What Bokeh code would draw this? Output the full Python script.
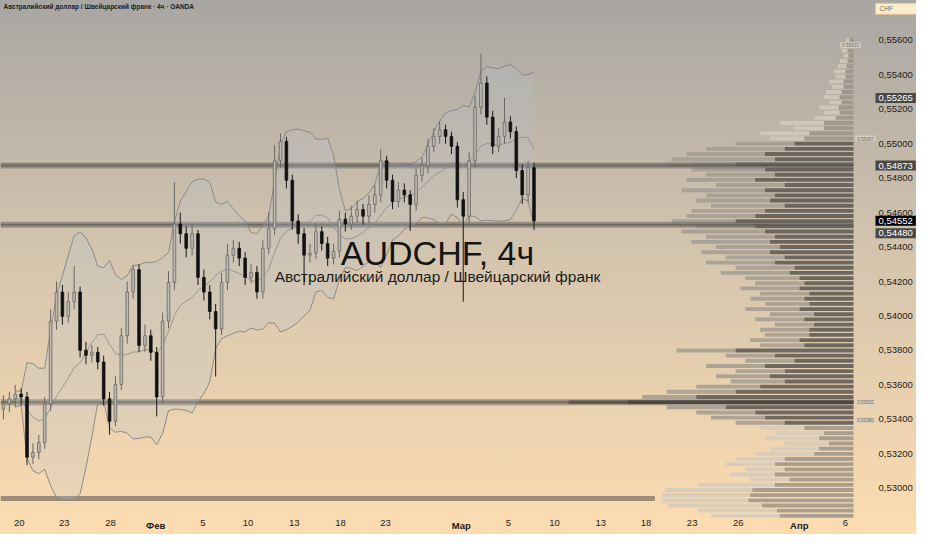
import pandas as pd
from bokeh.plotting import figure
from bokeh.models import Range1d, FixedTicker, CustomJSTickFormatter, Label
from bokeh.embed import file_html
from bokeh.resources import INLINE

# ---------------- data ----------------
first_open = 0.53460
close = [0.53490, 0.53519, 0.53547, 0.53530, 0.53180, 0.53208, 0.53265, 0.53490, 0.53970, 0.54139,
         0.53998, 0.54083, 0.54139, 0.53801, 0.53772, 0.53789, 0.53733, 0.53519, 0.53389, 0.53603,
         0.53885, 0.54139, 0.54269, 0.53829, 0.53885, 0.53789, 0.53530, 0.53970, 0.54195, 0.54534,
         0.54477, 0.54393, 0.54477, 0.54224, 0.54139, 0.54026, 0.53925, 0.54195, 0.54353, 0.54393,
         0.54336, 0.54224, 0.54252, 0.54139, 0.54393, 0.54506, 0.54901, 0.55013, 0.54788, 0.54551,
         0.54477, 0.54353, 0.54365, 0.54489, 0.54421, 0.54336, 0.54376, 0.54562, 0.54534, 0.54579,
         0.54618, 0.54579, 0.54647, 0.54703, 0.54901, 0.54788, 0.54664, 0.54731, 0.54703, 0.54647,
         0.54816, 0.54872, 0.54985, 0.55042, 0.55081, 0.55042, 0.54985, 0.54675, 0.54579, 0.54901,
         0.55211, 0.55352, 0.55154, 0.54985, 0.55042, 0.55126, 0.55070, 0.54844, 0.54703, 0.54861,
         0.54552]
high = [0.53540, 0.53560, 0.53600, 0.53580, 0.53560, 0.53260, 0.53310, 0.53530, 0.54040, 0.54200,
        0.54180, 0.54140, 0.54290, 0.54170, 0.53850, 0.53830, 0.53820, 0.53770, 0.53560, 0.53650,
        0.53930, 0.54200, 0.54297, 0.54300, 0.53950, 0.53920, 0.53820, 0.54020, 0.54260, 0.54777,
        0.54600, 0.54520, 0.54540, 0.54500, 0.54270, 0.54180, 0.54070, 0.54250, 0.54420, 0.54440,
        0.54430, 0.54370, 0.54300, 0.54290, 0.54440, 0.54600, 0.54990, 0.55058, 0.55040, 0.54820,
        0.54590, 0.54510, 0.54420, 0.54540, 0.54520, 0.54460, 0.54420, 0.54610, 0.54600, 0.54640,
        0.54670, 0.54650, 0.54700, 0.54760, 0.54968, 0.54930, 0.54820, 0.54780, 0.54770, 0.54730,
        0.54860, 0.54920, 0.55030, 0.55090, 0.55130, 0.55110, 0.55070, 0.55010, 0.54720, 0.54950,
        0.55280, 0.55521, 0.55390, 0.55190, 0.55090, 0.55267, 0.55160, 0.55100, 0.54880, 0.54900,
        0.54890]
low = [0.53400, 0.53440, 0.53470, 0.53480, 0.53135, 0.53140, 0.53170, 0.53230, 0.53450, 0.53920,
       0.53950, 0.53960, 0.54040, 0.53760, 0.53720, 0.53730, 0.53690, 0.53480, 0.53310, 0.53360,
       0.53570, 0.53840, 0.54100, 0.53790, 0.53790, 0.53740, 0.53417, 0.53500, 0.53930, 0.54150,
       0.54420, 0.54340, 0.54350, 0.54180, 0.54090, 0.53980, 0.53648, 0.53890, 0.54150, 0.54310,
       0.54290, 0.54180, 0.54190, 0.54100, 0.54100, 0.54360, 0.54470, 0.54860, 0.54740, 0.54500,
       0.54420, 0.54178, 0.54310, 0.54330, 0.54380, 0.54290, 0.54300, 0.54340, 0.54490, 0.54500,
       0.54540, 0.54530, 0.54540, 0.54600, 0.54660, 0.54740, 0.54620, 0.54630, 0.54660, 0.54494,
       0.54610, 0.54780, 0.54830, 0.54950, 0.55000, 0.55000, 0.54940, 0.54630, 0.54083, 0.54540,
       0.54860, 0.55170, 0.55110, 0.54940, 0.54950, 0.55000, 0.55030, 0.54800, 0.54650, 0.54660,
       0.54500]

# time axis (bar-index positions of the date labels)
date_pos = [2.67, 10.33, 18.17, 25.83, 33.83, 41.5, 49.33, 57.17, 64.83, 77.67,
            85.67, 93.5, 101.33, 109.0, 116.83, 124.67, 135.0, 142.83]
date_lbl = ["20", "23", "28", "Фев", "5", "10", "13", "18", "23", "Мар",
            "5", "10", "13", "18", "23", "26", "Апр", "6"]
month_lbl = ["Фев", "Мар", "Апр"]

price_ticks = [0.530, 0.532, 0.534, 0.536, 0.538, 0.540, 0.542,
               0.544, 0.546, 0.548, 0.550, 0.552, 0.554, 0.556]

# horizontal levels
levels = [0.54873, 0.54530, 0.53500]
bottom_level = 0.52940
bottom_level_end = 110.5

# price tags on the axis
tag_text = ["0,55265", "0,54873", "0,54552", "0,54480"]
tag_price = [0.55265, 0.54873, 0.54552, 0.54480]
tag_color = ["#4a4845", "#4a4845", "#000000", "#4a4845"]
currency = "CHF"

# volume profile (rows of 0.0003 from 0.5560 downwards)
vp_top = 0.5560
vp_step = 0.0003
vp_total = [8, 10, 12, 10, 14, 16, 20, 18, 25, 22,
            28, 30, 25, 35, 30, 40, 75, 60, 95, 85,
            120, 150, 170, 185, 190, 165, 150, 170, 140, 175,
            150, 160, 145, 165, 170, 185, 160, 175, 150, 165,
            140, 155, 130, 150, 120, 135, 110, 100, 115, 95,
            105, 90, 110, 85, 100, 80, 95, 90, 105, 95,
            180, 130, 110, 150, 120, 140, 125, 160, 190, 215,
            290, 190, 160, 145, 120, 95, 80, 90, 70, 85,
            100, 120, 130, 110, 125, 105, 158, 192, 195, 195,
            189, 158, 145]
vp_up = [4, 5, 6, 5, 6, 7, 8, 8, 10, 10,
         12, 14, 12, 15, 14, 18, 30, 30, 45, 50,
         60, 70, 90, 80, 120, 90, 80, 100, 70, 90,
         80, 85, 70, 90, 100, 120, 100, 90, 80, 85,
         75, 85, 70, 80, 60, 65, 55, 50, 55, 45,
         50, 45, 55, 40, 50, 40, 45, 45, 55, 50,
         120, 80, 60, 90, 70, 85, 70, 95, 120, 160,
         230, 130, 100, 90, 70, 50, 30, 35, 25, 35,
         40, 70, 80, 70, 80, 65, 80, 103, 105, 107,
         93, 78, 75]
va_high = 0.5500
va_low = 0.5338
poc_price = 0.5350

vp_tag_text = ["0.55633", "0.55007", "0.53502", "0.53380"]
vp_tag_price = [0.55572, 0.55030, 0.53501, 0.53394]

# ---------------- derived ----------------
opens = [first_open] + close[:-1]
n = len(close)
xs = list(range(n))
up = [c >= o for o, c in zip(opens, close)]
s = pd.Series(close)
mid = s.rolling(10, min_periods=3).mean()
sd = s.rolling(10, min_periods=3).std(ddof=0)
bb_up = (mid + 2 * sd)
bb_lo = (mid - 2 * sd)

W, H = 916, 534                   # canvas == frame
CHART_W, CHART_H = 853, 515       # price pane inside the frame
X0, X_EDGE = -0.5, 144.2          # bar-index span of the price pane
PX = (X_EDGE - X0) / CHART_W
X_END = X0 + W * PX
Y_TOP, Y_PANE = 0.55831, 0.52842
PY = (Y_TOP - Y_PANE) / CHART_H
Y_BOT = Y_TOP - H * PY
VP_FULL = 868
FONT = "Liberation Sans"

p = figure(width=W, height=H, x_range=Range1d(X0, X_END), y_range=Range1d(Y_BOT, Y_TOP),
           y_axis_location="right", output_backend="svg", toolbar_location=None)
p.min_border = 0
p.background_fill_alpha = 0
p.border_fill_alpha = 0
p.outline_line_color = None
p.grid.visible = False
p.styles = {"background": "linear-gradient(180deg, #a8a6a3 0%, #d6c6ae 50%, #fddcb0 100%)"}
p.extra_x_ranges = {"vp": Range1d(VP_FULL, -(W - CHART_W) * VP_FULL / CHART_W)}

# volume profile
ys = [vp_top - k * vp_step for k in range(len(vp_total))]
for k, y in enumerate(ys):
    if abs(y - poc_price) < 1e-6:
        dark, light = "#0e0e0e", "#5a5650"
    elif va_low <= y <= va_high:
        dark, light = "#5a5650", "#a39c92"
    else:
        dark, light = "#9b948a", "#d3cabc"
    p.hbar(y=[y], left=[vp_up[k]], right=[vp_total[k]], height=vp_step * 0.75,
           x_range_name="vp", fill_color=light, line_color=None, fill_alpha=0.85)
    p.hbar(y=[y], left=[0], right=[vp_up[k]], height=vp_step * 0.75,
           x_range_name="vp", fill_color=dark, line_color=None, fill_alpha=0.85)

# levels
for lv in levels:
    p.segment(x0=[X0], x1=[X_EDGE], y0=[lv], y1=[lv], line_color="#6a655f", line_width=6, line_alpha=0.55)
    p.segment(x0=[X0], x1=[X_EDGE], y0=[lv], y1=[lv], line_color="#4a4743", line_width=2, line_alpha=0.5)
p.segment(x0=[X0], x1=[bottom_level_end], y0=[bottom_level], y1=[bottom_level],
          line_color="#7c7368", line_width=5, line_alpha=0.75)

# Bollinger bands
bx = [x for x, v in zip(xs, bb_up) if pd.notna(v)]
bu = [v for v in bb_up if pd.notna(v)]
bl = [v for v in bb_lo if pd.notna(v)]
bm = [v for v in mid if pd.notna(v)]
p.varea(x=bx, y1=bl, y2=bu, fill_color="#b8c4d0", fill_alpha=0.22)
p.line(bx, bu, line_color="#858585", line_width=0.9)
p.line(bx, bl, line_color="#858585", line_width=0.9)
p.line(bx, bm, line_color="#8a8a8a", line_width=0.8)

# candles
ux = [x for x, u in zip(xs, up) if u]
dx = [x for x, u in zip(xs, up) if not u]
p.segment(x0=ux, x1=ux, y0=[low[i] for i in ux], y1=[high[i] for i in ux], line_color="#6a6763", line_width=1)
p.segment(x0=dx, x1=dx, y0=[low[i] for i in dx], y1=[high[i] for i in dx], line_color="#1a1a1a", line_width=1)
p.vbar(x=ux, width=0.45, bottom=[opens[i] for i in ux], top=[close[i] for i in ux],
       fill_color="#bdb8b0", line_color="#6a6763", line_width=0.8)
p.vbar(x=dx, width=0.45, bottom=[close[i] for i in dx], top=[opens[i] for i in dx],
       fill_color="#111111", line_color="#111111", line_width=0.8)

# main price axis: labels pulled back inside the canvas
yax = p.yaxis[0]
yax.ticker = FixedTicker(ticks=price_ticks)
yax.formatter = CustomJSTickFormatter(code="return tick.toFixed(5).replace('.', ',');")
yax.axis_line_color = None
yax.major_tick_line_color = None
yax.minor_tick_line_color = None
yax.major_tick_out = 0
yax.major_tick_in = 0
yax.major_label_standoff = -38
yax.major_label_text_font = FONT
yax.major_label_text_font_size = "9.5px"
yax.major_label_text_color = "#1e1e1e"

# time axis (day numbers)
day_pos = [x for x, t in zip(date_pos, date_lbl) if t not in month_lbl]
day_lbl = [t for t in date_lbl if t not in month_lbl]
xax = p.xaxis[0]
xax.ticker = FixedTicker(ticks=day_pos)
xax.formatter = CustomJSTickFormatter(args=dict(pos=day_pos, lbl=day_lbl), code="""
let best = 0, bd = 1e9;
for (let i = 0; i < pos.length; i++) { const d = Math.abs(pos[i] - tick); if (d < bd) { bd = d; best = i; } }
return lbl[best];
""")
xax.axis_line_color = None
xax.major_tick_line_color = None
xax.minor_tick_line_color = None
xax.major_tick_out = 0
xax.major_tick_in = 0
xax.major_label_standoff = -15
xax.major_label_text_font = FONT
xax.major_label_text_font_size = "9.5px"
xax.major_label_text_color = "#1e1e1e"

# month names (bold)
for x, t in zip(date_pos, date_lbl):
    if t in month_lbl:
        p.add_layout(Label(x=x, y=9.5, y_units="screen", text=t, text_font=FONT, text_font_size="9.5px",
                           text_font_style="bold", text_color="#1e1e1e", text_align="center",
                           text_baseline="middle"))

# price tags
for t, pr, c in zip(tag_text, tag_price, tag_color):
    p.add_layout(Label(x=875, x_units="screen", y=pr, text=t, text_font=FONT,
                       text_font_size="9.5px", text_color="#ffffff", background_fill_color=c,
                       text_baseline="middle", text_align="left",
                       padding=dict(left=3, right=3, top=2, bottom=2)))

# volume-profile tags
for i, (t, pr) in enumerate(zip(vp_tag_text, vp_tag_price)):
    p.add_layout(Label(x=850 if i == 0 else 865, x_units="screen", y=pr, text=t, text_font=FONT,
                       text_font_size="4.5px", text_color="#6a655e", background_fill_color="#d8d0c4",
                       background_fill_alpha=0.9, text_baseline="middle", text_align="center",
                       padding=dict(left=2, right=2, top=1, bottom=1)))

# currency box
p.add_layout(Label(x=875, x_units="screen", y=H - 8.3, y_units="screen", text=currency, text_font=FONT,
                   text_font_size="6.5px", text_color="#7a7060", background_fill_color="#fdecc9",
                   border_line_color="#dcc59a", text_baseline="middle", text_align="left",
                   padding=dict(left=4, right=24, top=2, bottom=2)))

# title & watermark
p.add_layout(Label(x=3, x_units="screen", y=H - 6, y_units="screen",
                   text="Австралийский доллар / Швейцарский франк · 4ч · OANDA", text_font=FONT,
                   text_font_size="6.5px", text_font_style="bold", text_color="#222222",
                   text_baseline="middle", text_align="left"))
p.add_layout(Label(x=437, x_units="screen", y=H - 252, y_units="screen", text="AUDCHF, 4ч",
                   text_font=FONT, text_font_size="34px", text_color="#141414",
                   text_baseline="middle", text_align="center"))
p.add_layout(Label(x=437, x_units="screen", y=H - 276, y_units="screen",
                   text="Австралийский доллар / Швейцарский франк", text_font=FONT,
                   text_font_size="15.5px", text_color="#1a1a1a", text_baseline="middle", text_align="center"))

open("out.html", "w").write(file_html(p, INLINE))
